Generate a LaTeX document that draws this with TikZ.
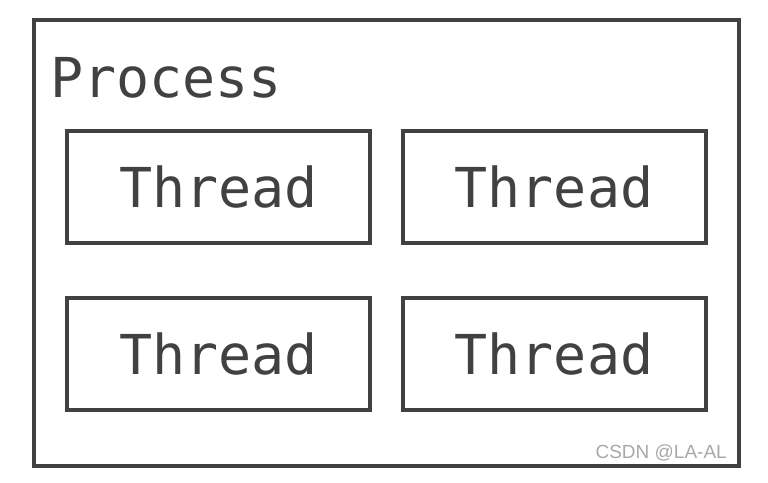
\documentclass[tikz,border=0pt]{standalone}
\usepackage{fontspec}
\usepackage{xcolor}
\usepackage{tikz}
\setmonofont{DejaVu Sans Mono}
\setsansfont{Liberation Sans}
\definecolor{boxgray}{HTML}{414141}
\definecolor{markgray}{HTML}{A8A8A8}

\begin{document}
\begin{tikzpicture}[x=1pt, y=-1pt,
    every node/.style={text=boxgray, font=\ttfamily\fontsize{55}{60}\selectfont},
    threadbox/.style={rectangle, draw=boxgray, line width=4pt, minimum width=303pt, minimum height=112pt, inner sep=0pt}]
    \useasboundingbox (0,0) rectangle (768,482);
    % outer process box
    \node[rectangle, draw=boxgray, line width=4pt, minimum width=705pt, minimum height=445.5pt] (process) at (386,242.75) {};
    \node[anchor=base west, inner sep=0pt] (label) at (50,97) {Process};
    % the four threads
    \node[threadbox] (t1) at (218.5,186.5) {Thread};
    \node[threadbox] (t2) at (554,186.5) {Thread};
    \node[threadbox] (t3) at (218.5,354) {Thread};
    \node[threadbox] (t4) at (554,354) {Thread};
    \node[anchor=base east, inner sep=0pt, text=markgray, font=\sffamily\fontsize{19}{22}\selectfont] (mark) at (727,458) {CSDN @LA-AL};
\end{tikzpicture}
\end{document}
